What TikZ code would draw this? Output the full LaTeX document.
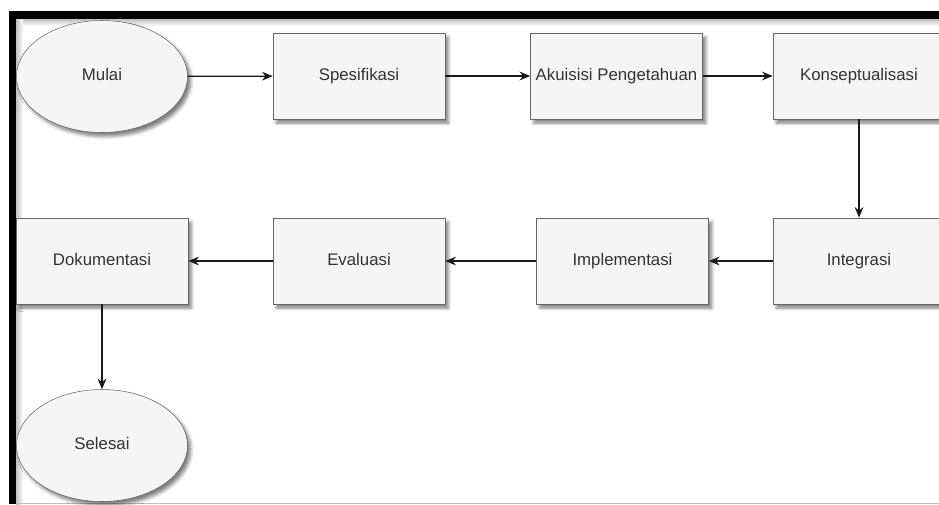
\documentclass[tikz,border=0pt]{standalone}
\usepackage{fontspec}
\setmainfont{Liberation Sans}
\usetikzlibrary{arrows.meta, shapes.geometric, shadows.blur}

\definecolor{boxfill}{HTML}{F5F5F5}
\definecolor{boxline}{HTML}{666666}
\definecolor{boxtext}{HTML}{333333}

\begin{document}
\begin{tikzpicture}[x=0.75pt, y=-0.75pt,
    every node/.style={font=\fontsize{12.6pt}{15pt}\selectfont, text=boxtext, text height=9pt, text depth=2.5pt},
    stepbox/.style={draw=boxline, fill=boxfill, minimum width=129pt, minimum height=64.5pt, inner sep=0pt,
      blur shadow={shadow xshift=2.5pt, shadow yshift=-3pt, shadow blur radius=2.5pt, shadow opacity=50}},
    terminal/.style={ellipse, draw=boxline, fill=boxfill, minimum width=128.25pt, minimum height=84pt, inner sep=0pt,
      blur shadow={shadow xshift=2.5pt, shadow yshift=-3pt, shadow blur radius=2.5pt, shadow opacity=50}},
    flow/.style={draw=black!90, line width=1pt, -{Stealth[length=8pt, width=6.5pt]}}]
  \useasboundingbox (0,0) rectangle (939,504);
  \clip (0,0) rectangle (939,504);
  % frame of the screenshot
  \shade[top color=black!25, bottom color=white] (16,19) rectangle (939,26);
  \shade[left color=black!25, right color=white] (16,19) rectangle (23,504);
  \fill[black] (9,11) rectangle (939,19);
  \fill[black] (9,11) rectangle (16,504);
  \draw[black!25] (16,503) -- (939,503);

  % first row
  \node[terminal] (mulai) at (102,76.5) {Mulai};
  \node[stepbox] (spesifikasi) at (359,76) {Spesifikasi};
  \node[stepbox] (akuisisi) at (616.5,76) {Akuisisi Pengetahuan};
  \node[stepbox] (konseptualisasi) at (859,76) {Konseptualisasi};

  % second row
  \node[stepbox] (integrasi) at (859,261) {Integrasi};
  \node[stepbox] (implementasi) at (622.5,261) {Implementasi};
  \node[stepbox] (evaluasi) at (359,261) {Evaluasi};
  \node[stepbox] (dokumentasi) at (102,261) {Dokumentasi};
  \node[terminal] (selesai) at (102,445.5) {Selesai};

  \draw[flow] (mulai) -- (spesifikasi);
  \draw[flow] (spesifikasi) -- (akuisisi);
  \draw[flow] (akuisisi) -- (konseptualisasi);
  \draw[flow] (konseptualisasi) -- (integrasi);
  \draw[flow] (integrasi) -- (implementasi);
  \draw[flow] (implementasi) -- (evaluasi);
  \draw[flow] (evaluasi) -- (dokumentasi);
  \draw[flow] (dokumentasi) -- (selesai);
\end{tikzpicture}
\end{document}
